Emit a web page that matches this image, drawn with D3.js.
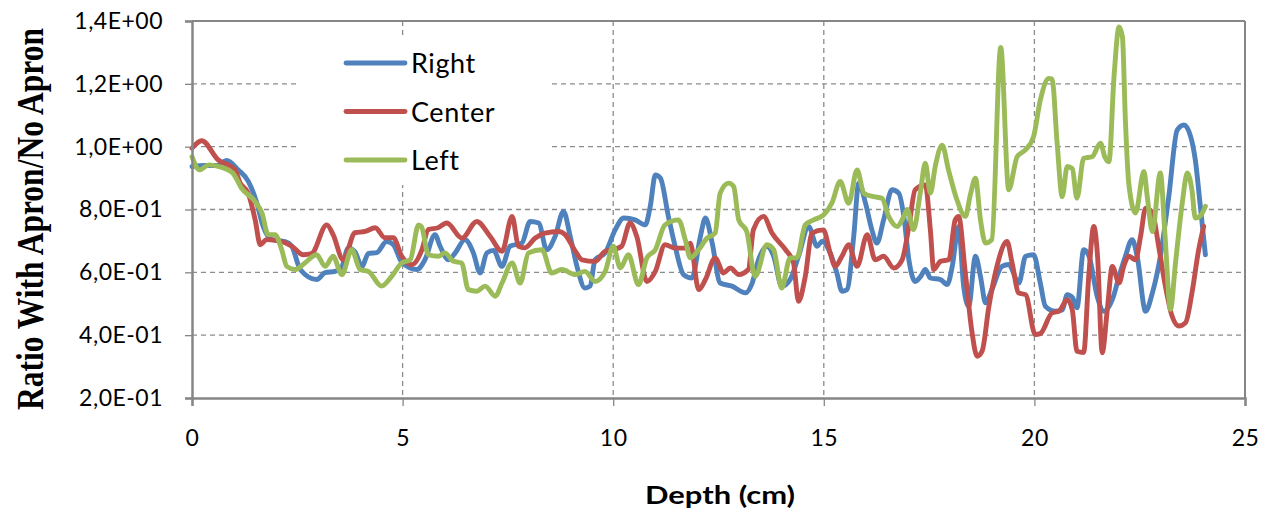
<!DOCTYPE html>
<html>
<head>
<meta charset="utf-8">
<script src="https://cdn.jsdelivr.net/npm/d3@7"></script>
<style>
  html, body { margin: 0; padding: 0; background: #ffffff; }
  svg { display: block; }
</style>
</head>
<body>
<svg id="chart" width="1265" height="512"></svg>
<script>
// Ratio of measured signal with apron vs. without apron, by depth, for three probe positions.

const xTicks = [0, 5, 10, 15, 20, 25];
const yTicks = [0.2, 0.4, 0.6, 0.8, 1.0, 1.2, 1.4];
const yTickLabels = ["2,0E-01", "4,0E-01", "6,0E-01", "8,0E-01", "1,0E+00", "1,2E+00", "1,4E+00"];

const seriesNames = ["Right", "Center", "Left"];
const seriesColors = ["#4F81BD", "#C0504D", "#9BBB59"];

// Right position
const rightDepth = [0, 0.3, 0.6, 0.82, 1.1, 1.34, 1.53, 1.69, 1.89, 2.21, 2.37, 2.57, 2.96, 3.16, 3.4, 3.55, 3.71, 3.87, 4.03, 4.19, 4.39, 4.62, 4.78, 4.98,
  5.34, 5.53, 5.77, 5.89, 6.09, 6.25, 6.48, 6.68, 6.84, 7.0, 7.16, 7.36, 7.55, 7.83, 8.03, 8.23, 8.42, 8.62, 8.82, 8.98, 9.14, 9.33, 9.45, 9.57, 9.81,
  10.05, 10.25, 10.52, 10.76, 10.88, 11.0, 11.12, 11.31, 11.47, 11.67, 11.87, 12.07, 12.19, 12.35, 12.54, 12.82, 13.14, 13.3, 13.45, 13.65, 13.81, 14.0, 14.2, 14.4, 14.64, 14.84,
  14.96, 15.15, 15.31, 15.43, 15.55, 15.71, 15.83, 15.99, 16.14, 16.26, 16.42, 16.62, 16.78, 16.9, 17.02, 17.17, 17.3, 17.41, 17.53, 17.77, 17.93, 18.05, 18.2, 18.32, 18.44, 18.6, 18.72, 18.84, 18.99, 19.23, 19.39, 19.63, 19.79,
  19.98, 20.14, 20.26, 20.5, 20.66, 20.78, 20.9, 21.01, 21.17, 21.3, 21.49, 21.65, 21.85, 22.01, 22.16, 22.32, 22.44, 22.64, 22.8, 22.99, 23.19, 23.39, 23.55, 23.71, 23.82, 23.94, 24.06];
const rightRatio = [0.937, 0.94, 0.94, 0.956, 0.926, 0.889, 0.825, 0.746, 0.704, 0.698, 0.683, 0.609, 0.577, 0.599, 0.603, 0.615, 0.678, 0.665, 0.619, 0.66, 0.663, 0.698, 0.688, 0.632,
  0.609, 0.64, 0.72, 0.683, 0.64, 0.662, 0.704, 0.662, 0.598, 0.662, 0.67, 0.619, 0.683, 0.693, 0.762, 0.757, 0.672, 0.714, 0.794, 0.714, 0.619, 0.55, 0.556, 0.64, 0.662,
  0.736, 0.773, 0.767, 0.751, 0.81, 0.91, 0.9, 0.778, 0.683, 0.593, 0.582, 0.714, 0.773, 0.693, 0.566, 0.556, 0.535, 0.566, 0.64, 0.683, 0.651, 0.556, 0.577, 0.651, 0.746, 0.683,
  0.699, 0.662, 0.598, 0.54, 0.545, 0.714, 0.884, 0.82, 0.736, 0.693, 0.767, 0.863, 0.852, 0.778, 0.64, 0.571, 0.587, 0.609, 0.582, 0.577, 0.561, 0.619, 0.746, 0.556, 0.492, 0.651, 0.587, 0.503, 0.545, 0.619, 0.625, 0.566, 0.651,
  0.656, 0.566, 0.492, 0.476, 0.48, 0.529, 0.52, 0.487, 0.672, 0.65, 0.524, 0.476, 0.513, 0.587, 0.651, 0.704, 0.651, 0.476, 0.534, 0.651, 0.841, 1.053, 1.069, 1.032, 0.958, 0.81, 0.656];

// Center position
const centerDepth = [0, 0.23, 0.62, 1.02, 1.14, 1.33, 1.5, 1.62, 1.77, 2.13, 2.37, 2.64, 2.84, 3.2, 3.35, 3.59, 3.87, 4.11, 4.35, 4.58, 4.78, 4.98,
  5.22, 5.46, 5.61, 5.84, 6.05, 6.41, 6.76, 7.08, 7.36, 7.6, 7.75, 7.9, 8.15, 8.38, 8.7, 8.86, 9.1, 9.26, 9.57, 9.81, 10.0, 10.2, 10.4, 10.56, 10.8, 11.0, 11.23, 11.47, 11.7, 11.83,
  12.03, 12.19, 12.42, 12.62, 12.78, 12.98, 13.21, 13.33, 13.57, 13.77, 14.09, 14.28, 14.4, 14.56, 14.72, 14.99, 15.15, 15.27, 15.43, 15.59, 15.79, 16.03, 16.22, 16.42, 16.66, 16.86,
  17.02, 17.17, 17.41, 17.53, 17.61, 17.77, 17.97, 18.12, 18.2, 18.36, 18.52, 18.64, 18.76, 18.92, 19.11, 19.35, 19.47, 19.63, 19.79, 20.02, 20.14, 20.42, 20.58, 20.78, 20.9,
  21.01, 21.17, 21.29, 21.41, 21.5, 21.61, 21.73, 21.85, 22.01, 22.12, 22.24, 22.4, 22.52, 22.64, 22.8, 22.95, 23.11, 23.27, 23.43, 23.59, 23.74, 23.9, 24.02];
const centerRatio = [0.995, 1.019, 0.958, 0.926, 0.885, 0.853, 0.767, 0.688, 0.704, 0.698, 0.683, 0.656, 0.66, 0.751, 0.72, 0.64, 0.726, 0.73, 0.742, 0.71, 0.71, 0.651,
  0.624, 0.672, 0.736, 0.742, 0.757, 0.709, 0.762, 0.714, 0.667, 0.778, 0.683, 0.678, 0.709, 0.725, 0.73, 0.72, 0.667, 0.64, 0.635, 0.667, 0.672, 0.683, 0.757, 0.714, 0.571, 0.603, 0.688, 0.677, 0.677, 0.693,
  0.545, 0.577, 0.646, 0.598, 0.614, 0.593, 0.609, 0.736, 0.778, 0.725, 0.672, 0.63, 0.508, 0.587, 0.725, 0.735, 0.662, 0.619, 0.651, 0.688, 0.619, 0.72, 0.64, 0.651, 0.614, 0.64,
  0.746, 0.863, 0.878, 0.735, 0.609, 0.635, 0.64, 0.767, 0.778, 0.598, 0.408, 0.333, 0.35, 0.492, 0.619, 0.698, 0.63, 0.534, 0.529, 0.402, 0.405, 0.471, 0.476, 0.513, 0.48,
  0.349, 0.345, 0.587, 0.746, 0.65, 0.344, 0.48, 0.619, 0.566, 0.619, 0.651, 0.64, 0.714, 0.804, 0.79, 0.683, 0.556, 0.46, 0.429, 0.44, 0.534, 0.672, 0.746];

// Left position
const leftDepth = [0, 0.18, 0.4, 0.62, 0.97, 1.17, 1.5, 1.66, 1.81, 1.97, 2.13, 2.25, 2.45, 2.68, 2.96, 3.16, 3.35, 3.56, 3.79, 3.99, 4.19, 4.5, 4.74, 4.98,
  5.18, 5.38, 5.45, 5.61, 5.85, 6.0, 6.21, 6.4, 6.56, 6.76, 6.96, 7.2, 7.36, 7.6, 7.79, 7.99, 8.31, 8.54, 8.78, 9.1, 9.33, 9.57, 9.81,
  10.0, 10.17, 10.36, 10.6, 10.8, 11.0, 11.23, 11.55, 11.71, 11.83, 12.03, 12.23, 12.42, 12.54, 12.74, 12.86, 12.98, 13.17, 13.37, 13.65, 13.81, 14.0, 14.2, 14.36, 14.56, 14.76,
  15.0, 15.19, 15.39, 15.59, 15.79, 15.95, 16.18, 16.38, 16.54, 16.74, 16.9, 16.98, 17.13, 17.29, 17.41, 17.53, 17.65, 17.81, 17.96, 18.16, 18.36, 18.48, 18.6, 18.72, 18.84, 18.99,
  19.2, 19.39, 19.59, 19.79, 19.98, 20.14, 20.34, 20.42, 20.54, 20.66, 20.78, 20.9, 21.01, 21.17, 21.37, 21.57, 21.67, 21.77, 21.89, 22.01, 22.09, 22.16, 22.24, 22.4, 22.6, 22.68,
  22.8, 22.99, 23.1, 23.23, 23.35, 23.51, 23.63, 23.74, 23.82, 23.94, 24.06];
const leftRatio = [0.968, 0.926, 0.942, 0.937, 0.916, 0.869, 0.825, 0.789, 0.72, 0.72, 0.672, 0.619, 0.609, 0.63, 0.656, 0.619, 0.651, 0.593, 0.672, 0.609, 0.603, 0.556, 0.587, 0.63,
  0.64, 0.751, 0.745, 0.656, 0.651, 0.662, 0.635, 0.63, 0.545, 0.54, 0.556, 0.524, 0.566, 0.63, 0.566, 0.662, 0.672, 0.598, 0.609, 0.593, 0.603, 0.571, 0.603,
  0.683, 0.614, 0.656, 0.561, 0.646, 0.672, 0.751, 0.767, 0.704, 0.646, 0.672, 0.709, 0.725, 0.852, 0.884, 0.873, 0.767, 0.73, 0.587, 0.688, 0.672, 0.55, 0.646, 0.646, 0.751, 0.767,
  0.783, 0.82, 0.889, 0.82, 0.926, 0.852, 0.841, 0.836, 0.778, 0.746, 0.778, 0.8, 0.736, 0.852, 0.947, 0.852, 0.94, 1.005, 0.926, 0.831, 0.778, 0.847, 0.9, 0.767, 0.693, 0.704,
  1.316, 0.863, 0.968, 0.99, 1.032, 1.148, 1.217, 1.215, 1.011, 0.841, 0.937, 0.93, 0.836, 0.963, 0.968, 1.011, 0.968, 0.952, 1.222, 1.381, 1.35, 1.085, 0.884, 0.789, 0.921, 0.84,
  0.73, 0.916, 0.72, 0.482, 0.63, 0.82, 0.916, 0.862, 0.773, 0.78, 0.81];

const series = [
  { name: seriesNames[0], color: seriesColors[0], depth: rightDepth, ratio: rightRatio },
  { name: seriesNames[1], color: seriesColors[1], depth: centerDepth, ratio: centerRatio },
  { name: seriesNames[2], color: seriesColors[2], depth: leftDepth, ratio: leftRatio }
];

const svg = d3.select("#chart");
const margin = { left: 192, right: 20, top: 21, bottom: 114 };
const W = 1265, H = 512;
const plotW = W - margin.left - margin.right;   // 1053
const plotH = H - margin.top - margin.bottom;   // 377

const x = d3.scaleLinear().domain([0, 25]).range([margin.left, margin.left + plotW]);
const y = d3.scaleLinear().domain([0.2, 1.4]).range([margin.top + plotH, margin.top]);

const axisGray = "#868686";
const gridGray = "#8c8c8c";

// Dashed gridlines
const grid = svg.append("g");
grid.selectAll("line.h").data(yTicks.slice(1, -1)).join("line")
  .attr("x1", margin.left).attr("x2", margin.left + plotW)
  .attr("y1", d => y(d)).attr("y2", d => y(d))
  .attr("stroke", gridGray).attr("stroke-width", 1.3).attr("stroke-dasharray", "5,4");
grid.selectAll("line.v").data(xTicks.slice(1, -1)).join("line")
  .attr("x1", d => x(d)).attr("x2", d => x(d))
  .attr("y1", margin.top).attr("y2", margin.top + plotH)
  .attr("stroke", gridGray).attr("stroke-width", 1.3).attr("stroke-dasharray", "5,4");

// Plot frame (top and right edges)
svg.append("line").attr("x1", margin.left).attr("x2", margin.left + plotW)
  .attr("y1", margin.top).attr("y2", margin.top).attr("stroke", axisGray).attr("stroke-width", 2);
svg.append("line").attr("x1", margin.left + plotW).attr("x2", margin.left + plotW)
  .attr("y1", margin.top).attr("y2", margin.top + plotH).attr("stroke", axisGray).attr("stroke-width", 2);

// Legend background hides the gridlines behind it
const legend = svg.append("g");
legend.append("rect").attr("x", 300).attr("y", 38).attr("width", 250).attr("height", 147).attr("fill", "#ffffff");

// Series lines
const line = d3.line().curve(d3.curveMonotoneX);
svg.append("g").selectAll("path").data(series).join("path")
  .attr("d", s => line(s.depth.map((d, i) => [x(d), y(s.ratio[i])])))
  .attr("fill", "none").attr("stroke", s => s.color).attr("stroke-width", 4.9)
  .attr("stroke-linejoin", "round").attr("stroke-linecap", "round");

// Axes
const xAxis = svg.append("g").attr("transform", `translate(0,${margin.top + plotH})`)
  .call(d3.axisBottom(x).tickValues(xTicks).tickSize(8).tickPadding(24).tickFormat(d3.format("d")));
const yAxis = svg.append("g").attr("transform", `translate(${margin.left},0)`)
  .call(d3.axisLeft(y).tickValues(yTicks).tickSize(7).tickPadding(22).tickFormat((d, i) => yTickLabels[i]));
[xAxis, yAxis].forEach(g => {
  g.select(".domain").attr("stroke", axisGray).attr("stroke-width", 2.5);
  g.selectAll(".tick line").attr("stroke", axisGray).attr("stroke-width", 1.3);
  g.selectAll(".tick text").attr("fill", "#000").attr("font-family", "Lato, 'Open Sans', sans-serif")
    .attr("font-size", 23).style("letter-spacing", "0.5px");
});

// Legend entries
series.forEach((s, i) => {
  const cy = 63 + i * 48.5;
  legend.append("line").attr("x1", 346).attr("x2", 405).attr("y1", cy).attr("y2", cy)
    .attr("stroke", s.color).attr("stroke-width", 4.9).attr("stroke-linecap", "round");
  legend.append("text").attr("x", 411).attr("y", cy + 10).text(s.name)
    .attr("font-family", "Lato, 'Open Sans', sans-serif").attr("font-size", 27).attr("fill", "#000")
    .style("letter-spacing", "0.6px");
});

// Axis titles
svg.append("text").attr("x", 720).attr("y", 504).attr("text-anchor", "middle")
  .attr("font-family", "Lato, 'Open Sans', sans-serif").attr("font-weight", "bold").attr("font-size", 24)
  .attr("textLength", 150).attr("lengthAdjust", "spacingAndGlyphs")
  .text("Depth (cm)");
// Vertical title: tall, narrow bold serif glyphs
svg.append("text").attr("transform", "translate(43,219) rotate(-90) scale(1,1.2)").attr("text-anchor", "middle")
  .attr("font-family", "'Liberation Serif', 'Times New Roman', serif").attr("font-weight", "bold").attr("font-size", 31)
  .attr("textLength", 382).attr("lengthAdjust", "spacingAndGlyphs")
  .text("Ratio With Apron/No Apron");
</script>
</body>
</html>
